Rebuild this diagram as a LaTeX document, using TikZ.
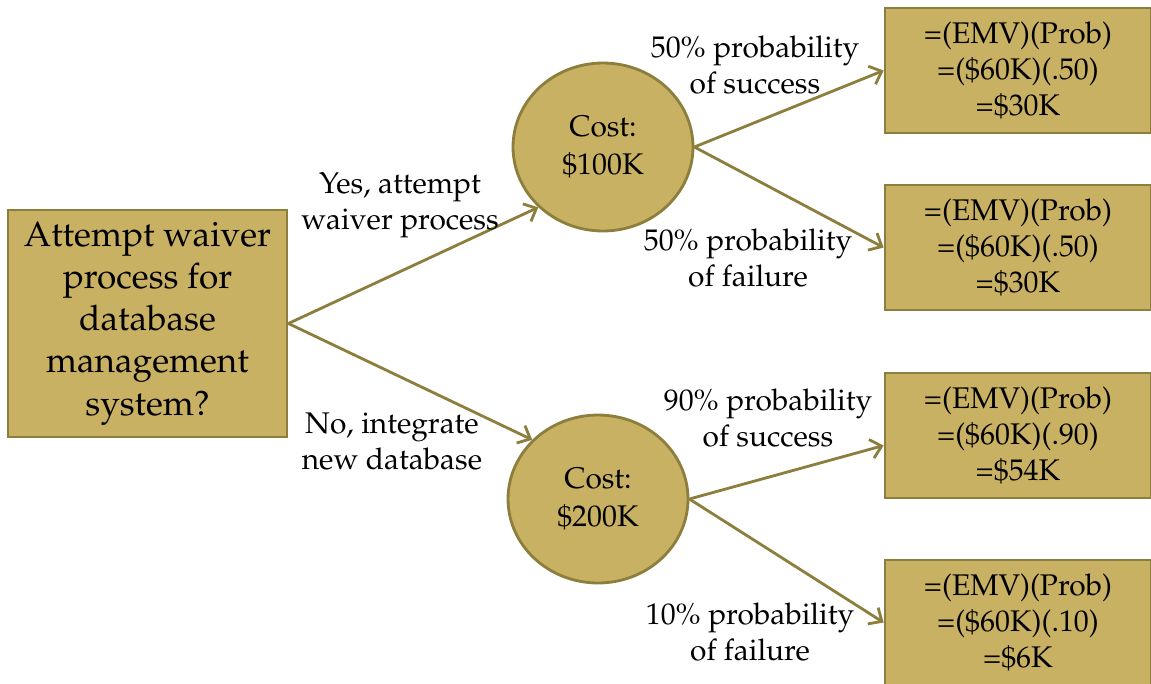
\documentclass[tikz,border=0pt]{standalone}
\usepackage[T1]{fontenc}
\usepackage{mathpazo}
\usetikzlibrary{shapes.geometric,arrows.meta}
\definecolor{treefill}{RGB}{201,177,99}
\definecolor{treeline}{RGB}{140,126,60}

\begin{document}
\begin{tikzpicture}[x=0.02cm,y=-0.02cm]
\tikzstyle{box}=[rectangle,draw=treeline,fill=treefill,line width=1.6pt,align=center,inner sep=0pt]
\tikzstyle{cost}=[ellipse,draw=treeline,fill=treefill,line width=1.6pt,align=center,minimum width=3.6cm,minimum height=3.36cm,inner sep=0pt,font=\fontsize{17}{21.5}\selectfont]
\tikzstyle{emv}=[box,minimum width=5.32cm,minimum height=2.5cm,font=\fontsize{17}{20.5}\selectfont]
\tikzstyle{lbl}=[align=center,inner sep=0pt,font=\fontsize{17}{20.5}\selectfont]
\tikzstyle{branch}=[draw=treeline,line width=1.6pt,-{Straight Barb[length=6pt,width=11pt]}]
\useasboundingbox (0,0) rectangle (1151,683);
% decision and chance nodes
\node[box,minimum width=5.58cm,minimum height=4.54cm,font=\fontsize{20}{24}\selectfont] (q) at (147.5,323.5)
	{Attempt waiver\\process for\\database\\management\\system?};
\node[cost] (c1) at (603,147) {Cost:\\\$100K};
\node[cost] (c2) at (598,499) {Cost:\\\$200K};
% outcomes
\foreach \name/\y/\p/\v in {
	e1/70.5/.50/30,
	e2/247.5/.50/30,
	e3/435.5/.90/54,
	e4/622.5/.10/6}
	\node[emv] (\name) at (1018,\y) {=(EMV)(Prob)\\=(\$60K)(\p)\\=\$\v K};
\draw[branch] (q.east) -- (c1.223);
\draw[branch] (q.east) -- (c2.138);
\draw[branch] (c1.east) -- (e1.west);
\draw[branch] (c1.east) -- (e2.west);
\draw[branch] (c2.east) -- ([yshift=-0.2cm]e3.west);
\draw[branch] (c2.east) -- (e4.west);
% branch labels
\node[lbl] (yes) at (400,205) {Yes, attempt\\waiver process};
\node[lbl] (no) at (392,441) {No, integrate\\new database};
\node[lbl] (p1) at (755,65) {50\% probability\\of success};
\node[lbl] (p2) at (748,258) {50\% probability\\of failure};
\node[lbl] (p3) at (768,418) {90\% probability\\of success};
\node[lbl] (p4) at (750,632) {10\% probability\\of failure};
\end{tikzpicture}
\end{document}
